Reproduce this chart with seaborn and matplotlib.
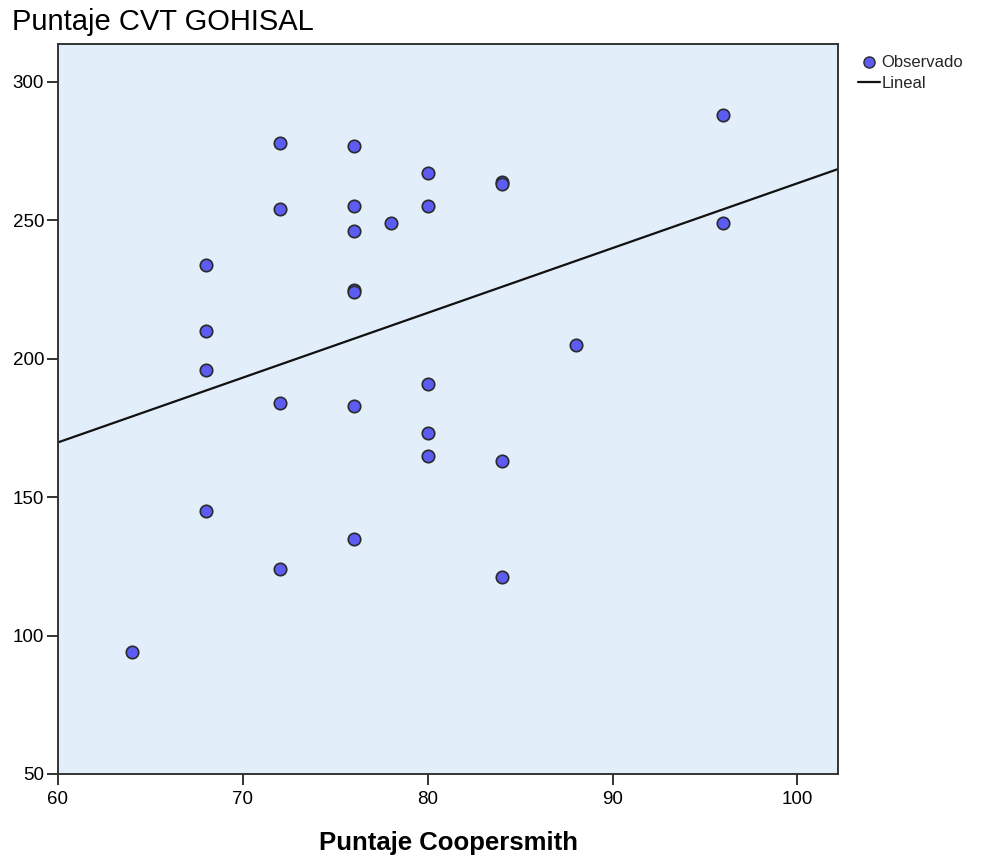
import seaborn as sns
import pandas as pd
import numpy as np
import matplotlib.pyplot as plt
from matplotlib.lines import Line2D

coopersmith = [64, 68, 68, 68, 68, 72, 72, 72, 72, 76, 76, 76, 76, 76, 76, 76, 78,
               80, 80, 80, 80, 80, 84, 84, 84, 84, 88, 96, 96]
cvt_gohisal = [94, 234, 210, 196, 145, 278, 254, 184, 124, 277, 255, 246, 225, 224, 183, 135, 249,
               267, 255, 191, 173, 165, 264, 263, 163, 121, 205, 288, 249]

df = pd.DataFrame({"Coopersmith": coopersmith, "CVT": cvt_gohisal})

sns.set_style("ticks")
plt.rcParams['font.family'] = ['Liberation Sans', 'DejaVu Sans']

fig = plt.figure(figsize=(10, 8.56), dpi=100)
ax = fig.add_axes([0.058, 0.0958, 0.78, 0.8528])
ax.set_facecolor("#E2EEFA")
ax.set_xlim(60, 102.2)
ax.set_ylim(50, 313.7)

sns.regplot(data=df, x="Coopersmith", y="CVT", ax=ax, ci=None, truncate=False,
            scatter_kws=dict(s=80, color="#5C5CF2", edgecolors="#2a2a2a", linewidths=1.2, alpha=1, zorder=3),
            line_kws=dict(color="#111111", lw=1.6, zorder=2))

ax.set_xticks([60, 70, 80, 90, 100])
ax.set_yticks([50, 100, 150, 200, 250, 300])
ax.tick_params(direction="out", length=8, width=1.4, color="#333333", labelsize=13.5,
               labelcolor="black", pad=2)
ax.tick_params(axis="x", pad=4)
for s in ax.spines.values():
    s.set_color("#333333")
    s.set_linewidth(1.4)
    s.set_visible(True)

ax.set_xlabel("Puntaje Coopersmith", fontsize=18.5, fontweight="bold", labelpad=17, color="black")
ax.set_ylabel("")
fig.text(0.012, 0.958, "Puntaje CVT GOHISAL", fontsize=21, ha="left", va="bottom", color="black")

handles = [Line2D([], [], marker="o", ls="", markersize=8, markerfacecolor="#5C5CF2",
                  markeredgecolor="#2a2a2a", label="Observado"),
           Line2D([], [], color="#111111", lw=1.6, label="Lineal")]
fig.legend(handles=handles, loc="upper left", bbox_to_anchor=(0.850, 0.945), frameon=False,
           fontsize=12, handlelength=1.3, handletextpad=0.1, labelspacing=0.35, borderpad=0)

fig.savefig("out.png", dpi=100)
